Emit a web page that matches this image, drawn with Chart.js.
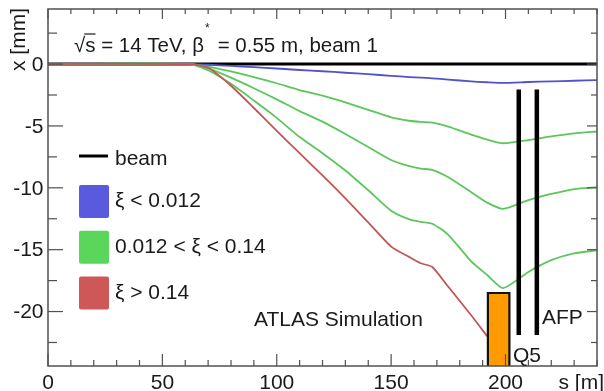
<!DOCTYPE html>
<html>
<head>
<meta charset="utf-8">
<script src="https://cdn.jsdelivr.net/npm/chart.js@4.4.1/dist/chart.umd.min.js"></script>
<style>
  html, body { margin: 0; padding: 0; background: #fff; }
  #wrap { width: 604px; height: 391px; }
</style>
</head>
<body>
<div id="wrap"><canvas id="orbitChart" width="604" height="391"></canvas></div>
<script>
// s positions along the beam line [m]
const sPos = [0, 62, 70, 80, 90, 100, 110, 120, 130, 140, 150, 158, 163, 168, 175, 185, 192, 199, 210, 220, 230, 240];

// proton trajectories x [mm]
const beamX   = sPos.map(() => 0);
const blueX   = [0, 0, -0.05, -0.15, -0.25, -0.36, -0.48, -0.58, -0.7, -0.82, -0.95, -1.05, -1.1, -1.15, -1.25, -1.4, -1.47, -1.52, -1.45, -1.4, -1.35, -1.3];
const green1X = [0, 0, -0.2, -0.6, -1.05, -1.55, -2.1, -2.55, -3.1, -3.7, -4.3, -4.58, -4.68, -4.73, -5.05, -5.7, -6.1, -6.4, -6.15, -5.85, -5.6, -5.45];
const green2X = [0, 0, -0.35, -1.1, -1.95, -2.85, -3.8, -4.65, -5.65, -6.7, -7.75, -8.25, -8.45, -8.55, -9.15, -10.35, -11.2, -11.7, -11.0, -10.5, -10.1, -9.95];
const green3X = [0, 0, -0.5, -1.6, -2.95, -4.35, -5.9, -7.2, -8.6, -10.2, -11.85, -12.55, -12.75, -12.9, -13.8, -15.95, -17.05, -18.1, -16.8, -15.85, -15.3, -15.05];
const redX    = [0, 0, -0.3, -1.75, -3.55, -5.4, -7.2, -9.0, -10.85, -12.8, -14.75, -15.6, -16.1, -16.4, -18.0, -20.3, -22.0];

// detector elements
const boxS = [192.3, 192.3, 201.7, 201.7];
const boxX = [-24.4, -18.5, -18.5, -24.4];
const q5S = [205.8, 205.8];
const afpS = [213.7, 213.7];
const wallX = [-2.05, -21.9];

// axis ticks
const xTickLabels = [0, 50, 100, 150, 200];
const yTickLabels = [0, -5, -10, -15, -20];

const legendItems = [
  { text: "ξ < 0.012", color: "#5a5ade" },
  { text: "0.012 < ξ < 0.14", color: "#5ad65a" },
  { text: "ξ > 0.14", color: "#ce5858" }
];

const FONT = '"Liberation Sans", Arial, sans-serif';
const pts = (xs, ys) => xs.map((v, i) => ({ x: v, y: ys[i] }));

function line(ctx, x1, y1, x2, y2) {
  ctx.beginPath();
  ctx.moveTo(x1, y1);
  ctx.lineTo(x2, y2);
  ctx.stroke();
}

const decoPlugin = {
  id: "deco",
  afterDraw(chart) {
    const { ctx, chartArea: a, scales } = chart;
    const sx = scales.x, sy = scales.y;
    ctx.save();

    // frame
    ctx.strokeStyle = "#505050";
    ctx.lineWidth = 1.5;
    ctx.strokeRect(a.left, a.top, a.right - a.left, a.bottom - a.top);

    // ticks
    ctx.lineWidth = 1.2;
    for (let v = 0; v <= 240; v += 10) {
      const px = sx.getPixelForValue(v);
      const major = v % 50 === 0;
      line(ctx, px, a.bottom, px, a.bottom - (major ? 12 : 6));
      line(ctx, px, a.top, px, a.top + (major ? 10 : 5));
    }
    for (let v = -22.5; v <= 2.5; v += 2.5) {
      const py = sy.getPixelForValue(v);
      const major = v % 5 === 0;
      line(ctx, a.left, py, a.left + (major ? 15 : 9), py);
      line(ctx, a.right, py, a.right - (major ? 10 : 6), py);
    }

    // tick labels
    ctx.fillStyle = "#1a1a1a";
    ctx.font = "21px " + FONT;
    ctx.textBaseline = "middle";
    ctx.textAlign = "right";
    yTickLabels.forEach(v => ctx.fillText(String(v), 43.5, sy.getPixelForValue(v) + 1));
    ctx.textAlign = "center";
    ctx.textBaseline = "alphabetic";
    xTickLabels.forEach(v => ctx.fillText(String(v), sx.getPixelForValue(v), 389));
    ctx.textAlign = "right";
    ctx.fillText("s [m]", 604, 389);

    // y axis title
    ctx.save();
    ctx.translate(25, 8);
    ctx.rotate(-Math.PI / 2);
    ctx.textAlign = "right";
    ctx.fillText("x [mm]", 0, 0);
    ctx.restore();

    // header text
    ctx.textAlign = "left";
    ctx.font = "20.5px " + FONT;
    const tx = 74, ty = 52;
    const part1 = "√s = 14 TeV, β";
    ctx.fillText(part1, tx, ty);
    const w1 = ctx.measureText(part1).width;
    const wr = ctx.measureText("√").width;
    const ws = ctx.measureText("√s").width;
    ctx.strokeStyle = "#1a1a1a";
    ctx.lineWidth = 1.2;
    line(ctx, tx + wr - 1, 34, tx + ws, 34);
    ctx.font = "12px " + FONT;
    ctx.fillText("*", tx + w1 + 1, 32);
    ctx.font = "20.5px " + FONT;
    ctx.fillText(" = 0.55 m, beam 1", tx + w1 + 8, ty);

    // legend
    ctx.font = "21px " + FONT;
    ctx.strokeStyle = "#000";
    ctx.lineWidth = 3;
    line(ctx, 79, 156, 108, 156);
    ctx.fillText("beam", 115, 165);
    legendItems.forEach((it, i) => {
      const top = 185 + i * 45.7;
      ctx.fillStyle = it.color;
      ctx.beginPath();
      ctx.roundRect(79, top, 30, 33, 2);
      ctx.fill();
      ctx.fillStyle = "#1a1a1a";
      ctx.fillText(it.text, 115, 207 + i * 46);
    });

    // annotations
    ctx.fillText("ATLAS Simulation", 254, 326);
    ctx.fillText("AFP", 542, 324);
    ctx.fillText("Q5", 513, 362);

    ctx.restore();
  }
};

const curveStyle = { borderWidth: 1.8, pointRadius: 0, fill: false, tension: 0.2 };

new Chart(document.getElementById("orbitChart"), {
  type: "line",
  data: {
    datasets: [
      { label: "Q5", data: pts(q5S, wallX), borderColor: "#000", borderWidth: 4.5, pointRadius: 0, borderCapStyle: "butt" },
      { label: "AFP", data: pts(afpS, wallX), borderColor: "#000", borderWidth: 4.5, pointRadius: 0, borderCapStyle: "butt" },
      { label: "box", data: pts(boxS, boxX), borderColor: "#111", borderWidth: 2.2, pointRadius: 0,
        backgroundColor: "#ff9a00", fill: "start" },
      { label: "ξ > 0.14", data: pts(sPos.slice(0, redX.length), redX), borderColor: "#c25656", ...curveStyle },
      { label: "green 1", data: pts(sPos, green1X), borderColor: "#5cc65c", ...curveStyle },
      { label: "green 2", data: pts(sPos, green2X), borderColor: "#5cc65c", ...curveStyle },
      { label: "green 3", data: pts(sPos, green3X), borderColor: "#5cc65c", ...curveStyle },
      { label: "ξ < 0.012", data: pts(sPos, blueX), borderColor: "#5252cc", ...curveStyle },
      { label: "beam", data: pts(sPos, beamX), borderColor: "#000", borderWidth: 3, pointRadius: 0, fill: false }
    ]
  },
  options: {
    responsive: false,
    animation: false,
    devicePixelRatio: 1,
    layout: { padding: { left: 48, right: 7, top: 9, bottom: 25 } },
    plugins: { legend: { display: false }, tooltip: { enabled: false } },
    scales: {
      x: { type: "linear", min: 0, max: 240, display: false },
      y: { type: "linear", min: -24.4, max: 4.45, display: false }
    }
  },
  plugins: [decoPlugin]
});
</script>
</body>
</html>
